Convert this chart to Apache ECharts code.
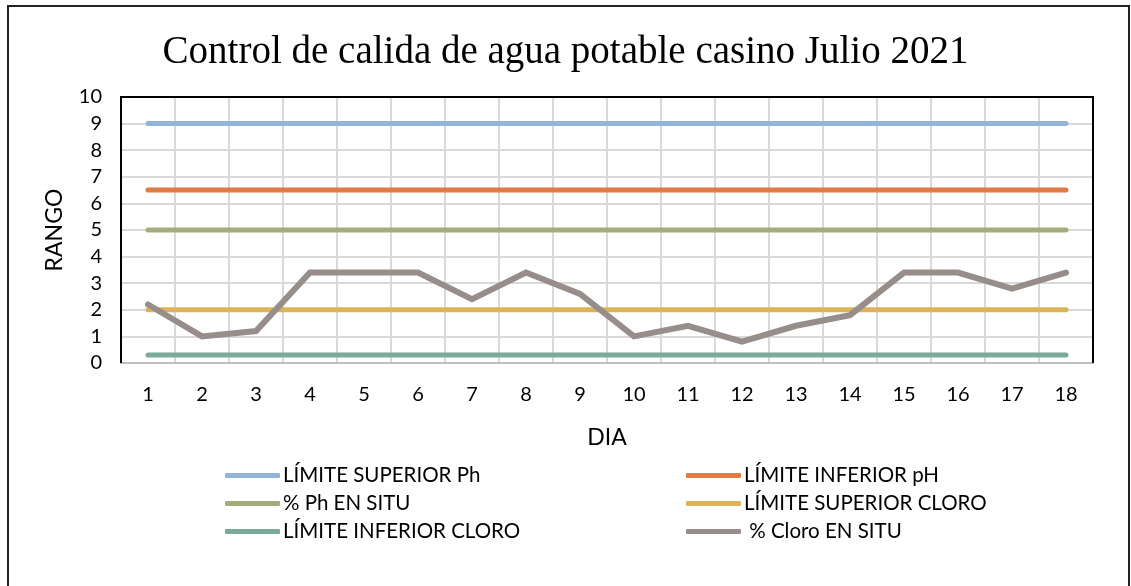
<!DOCTYPE html>
<html>
<head>
<meta charset="utf-8">
<title>Control de calida de agua potable casino Julio 2021</title>
<script src="https://cdn.jsdelivr.net/npm/echarts@6/dist/echarts.min.js"></script>
<style>
  html, body { margin: 0; padding: 0; background: #fff; }
  #chart { width: 1131px; height: 586px; }
</style>
</head>
<body>
<div id="chart"></div>
<script>
// datos del gráfico
const dias = ["1", "2", "3", "4", "5", "6", "7", "8", "9", "10", "11", "12", "13", "14", "15", "16", "17", "18"];
const limiteSuperiorPh = [9, 9, 9, 9, 9, 9, 9, 9, 9, 9, 9, 9, 9, 9, 9, 9, 9, 9];
const limiteInferiorPh = [6.5, 6.5, 6.5, 6.5, 6.5, 6.5, 6.5, 6.5, 6.5, 6.5, 6.5, 6.5, 6.5, 6.5, 6.5, 6.5, 6.5, 6.5];
const phEnSitu = [5, 5, 5, 5, 5, 5, 5, 5, 5, 5, 5, 5, 5, 5, 5, 5, 5, 5];
const limiteSuperiorCloro = [2, 2, 2, 2, 2, 2, 2, 2, 2, 2, 2, 2, 2, 2, 2, 2, 2, 2];
const limiteInferiorCloro = [0.3, 0.3, 0.3, 0.3, 0.3, 0.3, 0.3, 0.3, 0.3, 0.3, 0.3, 0.3, 0.3, 0.3, 0.3, 0.3, 0.3, 0.3];
const cloroEnSitu = [2.2, 1.0, 1.2, 3.4, 3.4, 3.4, 2.4, 3.4, 2.6, 1.0, 1.4, 0.8, 1.4, 1.8, 3.4, 3.4, 2.8, 3.4];

const font = "Lato, 'Noto Sans', sans-serif";

// área de trazado (px)
const gLeft = 121, gTop = 97, gRight = 1093, gBottom = 363;

const linea = (name, data, color, width) => ({
  name: name,
  type: "line",
  data: data,
  symbol: "none",
  lineStyle: { color: color, width: width, cap: "round", join: "miter" },
  itemStyle: { color: color },
});

const leyenda = (left, data) => ({
  orient: "vertical",
  left: left,
  top: 465,
  padding: 0,
  itemWidth: 55,
  itemHeight: 5,
  itemGap: 7,
  icon: "roundRect",
  textStyle: { fontFamily: font, fontSize: 20.5, lineHeight: 21, color: "#000", padding: [0, 0, 0, -2] },
  data: data,
});

const chart = echarts.init(document.getElementById("chart"));

chart.setOption({
  animation: false,
  backgroundColor: "#fff",
  title: {
    text: "Control de calida de agua potable casino Julio 2021",
    left: "center",
    top: 28,
    textStyle: { fontFamily: "'Liberation Serif', serif", fontSize: 39, fontWeight: "normal", color: "#000" },
  },
  legend: [
    leyenda(225, ["LÍMITE SUPERIOR Ph", "% Ph EN SITU", "LÍMITE INFERIOR CLORO"]),
    leyenda(686, ["LÍMITE INFERIOR pH", "LÍMITE SUPERIOR CLORO", " % Cloro EN SITU"]),
  ],
  grid: {
    left: gLeft,
    right: 1131 - gRight,
    top: gTop,
    bottom: 586 - gBottom,
  },
  xAxis: {
    type: "category",
    data: dias,
    boundaryGap: true,
    name: "DIA",
    nameLocation: "middle",
    nameGap: 63,
    nameTextStyle: { fontFamily: font, fontSize: 23, color: "#000" },
    axisLine: { show: true, lineStyle: { color: "#bfbfbf", width: 2 } },
    axisTick: { show: false },
    axisLabel: { fontFamily: font, fontSize: 20, color: "#000", margin: 22 },
    splitLine: { show: true, lineStyle: { color: "#d9d9d9", width: 2 } },
  },
  yAxis: {
    type: "value",
    min: 0,
    max: 10,
    interval: 1,
    name: "RANGO",
    nameLocation: "middle",
    nameGap: 55,
    nameTextStyle: { fontFamily: font, fontSize: 23, color: "#000" },
    axisLine: { show: false },
    axisTick: { show: false },
    axisLabel: { fontFamily: font, fontSize: 20, color: "#000", margin: 19 },
    splitLine: { show: true, lineStyle: { color: "#d9d9d9", width: 2 } },
  },
  graphic: [
    {
      type: "rect",
      shape: { x: 8, y: 6, width: 1121, height: 620 },
      style: { fill: null, stroke: "#222", lineWidth: 2 },
      silent: true,
    },
    {
      // borde negro del área de trazado (izquierda, arriba, derecha)
      type: "polyline",
      shape: { points: [[gLeft, gBottom], [gLeft, gTop], [gRight, gTop], [gRight, gBottom]] },
      style: { fill: null, stroke: "#000", lineWidth: 2 },
      z: 50,
      silent: true,
    },
  ],
  series: [
    linea("LÍMITE SUPERIOR Ph", limiteSuperiorPh, "#93b4d6", 5),
    linea("LÍMITE INFERIOR pH", limiteInferiorPh, "#e07b46", 5),
    linea("% Ph EN SITU", phEnSitu, "#a3ad7c", 5),
    linea("LÍMITE SUPERIOR CLORO", limiteSuperiorCloro, "#dcb25a", 5),
    linea("LÍMITE INFERIOR CLORO", limiteInferiorCloro, "#7aaa9b", 5),
    linea(" % Cloro EN SITU", cloroEnSitu, "#978d8b", 6),
  ],
});
</script>
</body>
</html>
